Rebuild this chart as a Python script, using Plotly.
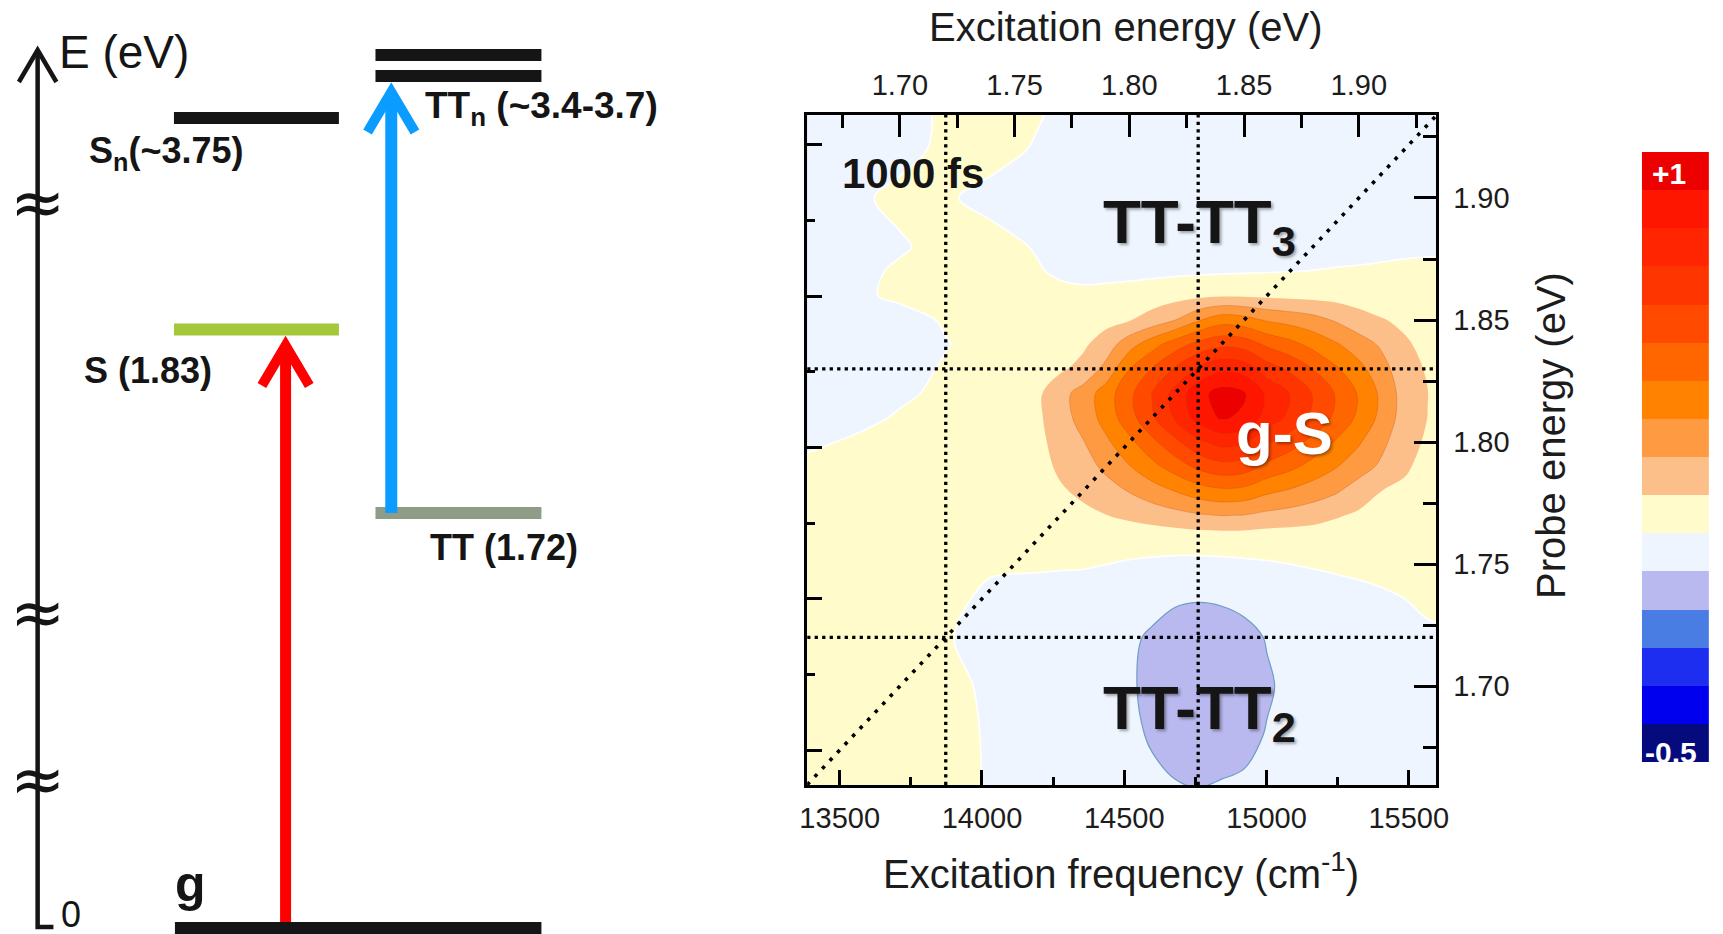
import plotly.graph_objects as go

W, H = 1723, 934
FONT = "Liberation Sans, Arial, Helvetica, sans-serif"
CM_PER_EV = 8065.54

# ---------------- right panel: 2D spectrum ----------------
excitation_ev = [1.655, 1.68, 1.70, 1.72, 1.74, 1.76, 1.77, 1.78, 1.79, 1.80, 1.81, 1.82,
                 1.83, 1.84, 1.85, 1.86, 1.87, 1.88, 1.89, 1.90, 1.91, 1.92, 1.93, 1.94]
probe_ev = [1.655, 1.68, 1.70, 1.72, 1.74, 1.76, 1.77, 1.78, 1.79, 1.80, 1.81,
            1.82, 1.83, 1.84, 1.85, 1.86, 1.87, 1.88, 1.90, 1.92, 1.94]
signal = [
    [0.05, 0.05, 0.045, 0.035, -0.01, -0.04, -0.045, -0.045, -0.05, -0.06, -0.075, -0.085, -0.092, -0.085, -0.08, -0.06, -0.05, -0.045, -0.045, -0.045, -0.045, -0.045, -0.045, -0.045],
    [0.05, 0.05, 0.045, 0.035, -0.012, -0.045, -0.045, -0.05, -0.06, -0.08, -0.11, -0.14, -0.15, -0.14, -0.125, -0.095, -0.07, -0.05, -0.045, -0.045, -0.045, -0.045, -0.045, -0.045],
    [0.05, 0.05, 0.045, 0.03, -0.02, -0.045, -0.045, -0.05, -0.065, -0.09, -0.12, -0.15, -0.16, -0.155, -0.14, -0.11, -0.08, -0.055, -0.048, -0.045, -0.045, -0.045, -0.045, -0.045],
    [0.05, 0.05, 0.04, 0.008, -0.035, -0.045, -0.045, -0.05, -0.062, -0.085, -0.112, -0.14, -0.15, -0.145, -0.125, -0.095, -0.068, -0.05, -0.047, -0.045, -0.038, -0.03, -0.015, -0.008],
    [0.05, 0.05, 0.045, 0.03, -0.012, -0.015, -0.018, -0.02, -0.03, -0.045, -0.06, -0.075, -0.08, -0.075, -0.065, -0.05, -0.037, -0.025, -0.017, -0.01, -0.001, 0.008, 0.025, 0.03],
    [0.045, 0.045, 0.045, 0.045, 0.04, 0.031, 0.031, 0.031, 0.031, 0.031, 0.033, 0.036, 0.039, 0.04, 0.04, 0.037, 0.037, 0.037, 0.041, 0.046, 0.047, 0.048, 0.047, 0.046],
    [0.045, 0.045, 0.045, 0.045, 0.045, 0.052, 0.066, 0.08, 0.099, 0.121, 0.144, 0.167, 0.19, 0.203, 0.198, 0.175, 0.16, 0.142, 0.11, 0.085, 0.07, 0.065, 0.055, 0.05],
    [0.045, 0.045, 0.045, 0.045, 0.045, 0.059, 0.09, 0.118, 0.16, 0.206, 0.255, 0.303, 0.352, 0.38, 0.37, 0.321, 0.289, 0.251, 0.213, 0.15, 0.1, 0.087, 0.066, 0.055],
    [0.02, 0.04, 0.045, 0.045, 0.045, 0.067, 0.116, 0.159, 0.224, 0.295, 0.371, 0.447, 0.523, 0.566, 0.55, 0.474, 0.425, 0.365, 0.306, 0.246, 0.181, 0.11, 0.077, 0.061],
    [-0.03, 0.015, 0.04, 0.045, 0.045, 0.074, 0.138, 0.196, 0.282, 0.375, 0.476, 0.576, 0.677, 0.734, 0.712, 0.612, 0.547, 0.468, 0.39, 0.311, 0.225, 0.131, 0.088, 0.066],
    [-0.045, -0.035, 0.012, 0.04, 0.045, 0.081, 0.162, 0.235, 0.343, 0.46, 0.586, 0.713, 0.839, 0.911, 0.884, 0.757, 0.676, 0.577, 0.478, 0.379, 0.271, 0.153, 0.099, 0.072],
    [-0.045, -0.045, -0.02, 0.025, 0.045, 0.082, 0.166, 0.241, 0.352, 0.473, 0.604, 0.734, 0.865, 0.939, 0.911, 0.78, 0.697, 0.594, 0.492, 0.39, 0.278, 0.156, 0.101, 0.073],
    [-0.045, -0.045, -0.035, 0.01, 0.045, 0.076, 0.085, 0.13, 0.23, 0.397, 0.505, 0.612, 0.72, 0.78, 0.758, 0.65, 0.581, 0.497, 0.413, 0.329, 0.237, 0.137, 0.091, 0.068],
    [-0.045, -0.045, -0.045, -0.005, 0.04, 0.055, 0.065, 0.085, 0.15, 0.26, 0.36, 0.454, 0.532, 0.576, 0.559, 0.482, 0.432, 0.371, 0.311, 0.25, 0.184, 0.111, 0.078, 0.062],
    [-0.045, -0.045, -0.035, 0.01, 0.045, 0.058, 0.06, 0.06, 0.07, 0.095, 0.14, 0.2, 0.29, 0.358, 0.34, 0.29, 0.265, 0.235, 0.19, 0.135, 0.105, 0.084, 0.065, 0.055],
    [-0.045, -0.02, 0.018, 0.045, 0.045, 0.033, 0.025, 0.018, 0.025, 0.036, 0.05, 0.064, 0.078, 0.089, 0.088, 0.081, 0.076, 0.071, 0.065, 0.059, 0.052, 0.044, 0.042, 0.039],
    [-0.045, -0.03, 0.015, 0.045, 0.04, 0.008, -0.015, -0.022, -0.024, -0.025, -0.022, -0.018, -0.015, -0.012, -0.008, -0.005, -0.002, 0.001, 0.004, 0.006, 0.009, 0.012, 0.014, 0.014],
    [-0.045, -0.045, -0.012, 0.035, 0.035, -0.008, -0.03, -0.04, -0.043, -0.045, -0.042, -0.04, -0.038, -0.036, -0.033, -0.03, -0.027, -0.024, -0.021, -0.018, -0.015, -0.012, -0.01, -0.01],
    [-0.045, -0.02, 0.025, 0.012, -0.03, -0.045, -0.045, -0.045, -0.045, -0.045, -0.045, -0.045, -0.045, -0.045, -0.045, -0.045, -0.045, -0.045, -0.045, -0.045, -0.045, -0.045, -0.045, -0.045],
    [-0.045, -0.045, -0.03, 0.02, 0.035, -0.01, -0.035, -0.045, -0.045, -0.045, -0.045, -0.045, -0.045, -0.045, -0.045, -0.045, -0.045, -0.045, -0.045, -0.045, -0.045, -0.045, -0.045, -0.045],
    [-0.045, -0.045, -0.035, 0.015, 0.04, 0.015, -0.01, -0.04, -0.045, -0.045, -0.045, -0.045, -0.045, -0.045, -0.045, -0.045, -0.045, -0.045, -0.045, -0.045, -0.045, -0.045, -0.045, -0.045],
]

# 16 colour bands from -0.6 to +1.0 in steps of 0.1 (bottom -> top)
band_colors = ["#050a7c", "#0000ee", "#1e2ef0", "#4a7de3", "#b9b9ef", "#eef5fe",
               "#fffbcb", "#fdbf8a", "#fd9a42", "#ff8200", "#ff6600", "#ff4a00",
               "#ff3500", "#ff2500", "#ff1600", "#ec0000"]
band_min, band_max, band_step = -0.6, 1.0, 0.1

guide_ev = [1.72, 1.83]            # TT and S energies
ev_range = [1.6596, 1.9338]        # excitation energy range
probe_range = [1.6595, 1.9340]     # probe energy range
freq_ticks = [13500, 14000, 14500, 15000, 15500]
freq_minor = [13750, 14250, 14750, 15250]
ev_ticks = [1.70, 1.75, 1.80, 1.85, 1.90]
ev_minor = [1.675, 1.725, 1.775, 1.825, 1.875, 1.925]

# ---------------- left panel: energy-level scheme (schematic heights, px from top) ----------------
level_names = ["g", "S", "TT", "Sn", "TTn_low", "TTn_high"]
level_y = [928, 329.5, 513, 118, 76, 55]
level_x0 = [169, 168, 372, 168, 372, 372]
level_x1 = [540, 335, 540, 335, 540, 540]
level_colors = ["#151515", "#a5c73a", "#8e9c88", "#151515", "#151515", "#151515"]
level_thick = 12

transitions = [("g", "S", 281, "#ff0000", 11), ("TT", "TTn_low", 388, "#0a9cff", 12)]
axis_x, axis_top, axis_bottom, axis_foot = 30, 52, 927, 46
break_y = [203, 612, 779]

# ---------------- helpers ----------------
def px(x):
    return x / W

def py(y):
    return 1 - y / H

n_b = len(band_colors)
colorscale = []
for k, c in enumerate(band_colors):
    lo = 0.0 if k == 0 else (k - 0.5) / (n_b - 1)
    hi = 1.0 if k == n_b - 1 else (k + 0.5) / (n_b - 1)
    colorscale += [[lo, c], [hi, c]]

fig = go.Figure()

excitation_cm = [v * CM_PER_EV for v in excitation_ev]
common = dict(x=excitation_cm, y=probe_ev, z=signal, xaxis="x", yaxis="y",
              showscale=False, hoverinfo="skip")
fig.add_trace(go.Contour(**common, colorscale=colorscale, zmin=band_min, zmax=band_max, zauto=False,
                         contours=dict(start=band_min + band_step, end=band_max - band_step,
                                       size=band_step, coloring="fill", showlines=False),
                         line=dict(width=0, smoothing=1.0)))
fig.add_trace(go.Contour(**common, contours=dict(start=0.2, end=0.9, size=0.1, coloring="none"),
                         line=dict(width=0.8, color="rgba(170,60,10,0.3)", smoothing=1.0)))
fig.add_trace(go.Contour(**common, contours=dict(start=0.0, end=0.0, size=0.1, coloring="none"),
                         line=dict(width=1.8, color="rgba(255,255,255,0.95)", smoothing=1.0)))
fig.add_trace(go.Contour(**common, contours=dict(start=-0.1, end=-0.1, size=0.1, coloring="none"),
                         line=dict(width=1.2, color="#6f9cc4", smoothing=1.0)))

# invisible anchor trace so the left (cm-1) probe axis is drawn
fig.add_trace(go.Scatter(x=[freq_ticks[0]], y=[freq_ticks[0]], xaxis="x", yaxis="y2",
                         mode="markers", marker=dict(opacity=0), hoverinfo="skip", showlegend=False))

dot = dict(color="black", width=3.3, dash="3.3px,4.2px")
for e in guide_ev:
    fig.add_trace(go.Scatter(x=[e, e], y=probe_range, xaxis="x2", yaxis="y", mode="lines",
                             line=dot, hoverinfo="skip", showlegend=False))
    fig.add_trace(go.Scatter(x=ev_range, y=[e, e], xaxis="x2", yaxis="y", mode="lines",
                             line=dot, hoverinfo="skip", showlegend=False))
fig.add_trace(go.Scatter(x=ev_range, y=ev_range, xaxis="x2", yaxis="y", mode="lines",
                         line=dict(color="black", width=3.6, dash="3.6px,7.4px"),
                         hoverinfo="skip", showlegend=False))

# colour bar as a stacked heatmap
fig.add_trace(go.Heatmap(z=[[k] for k in range(n_b)], x=[0], y=list(range(n_b)),
                         colorscale=colorscale, zmin=0, zmax=n_b - 1, showscale=False,
                         xaxis="x4", yaxis="y4", hoverinfo="skip"))

# ---------------- axes ----------------
tickfont = dict(family=FONT, size=29, color="#1c1c1c")
frame = dict(showline=True, linecolor="black", linewidth=3, showgrid=False, zeroline=False,
             ticks="inside", tickcolor="black", tickwidth=2.5, fixedrange=True)
dom_x = [px(809), px(1446)]
dom_y = [py(785), py(115)]

fig.update_layout(
    width=W, height=H, margin=dict(l=0, r=0, t=0, b=0),
    paper_bgcolor="white", plot_bgcolor="white", showlegend=False,
    xaxis=dict(**frame, domain=dom_x, anchor="y", side="bottom",
               range=[ev_range[0] * CM_PER_EV, ev_range[1] * CM_PER_EV],
               tickvals=freq_ticks, ticktext=[str(v) for v in freq_ticks], ticklen=15,
               tickfont=tickfont, ticklabelstandoff=5,
               minor=dict(tickvals=freq_minor, ticks="inside", ticklen=8, tickwidth=2.5,
                          tickcolor="black", showgrid=False)),
    xaxis2=dict(**frame, overlaying="x", anchor="y", side="top", range=ev_range,
                tickvals=ev_ticks, ticktext=["%.2f" % v for v in ev_ticks], ticklen=22,
                tickfont=tickfont, ticklabelstandoff=5,
                minor=dict(tickvals=ev_minor, ticks="inside", ticklen=13, tickwidth=2.5,
                           tickcolor="black", showgrid=False)),
    yaxis=dict(**frame, domain=dom_y, anchor="x", side="right", range=probe_range,
               tickvals=ev_ticks, ticktext=["%.2f" % v for v in ev_ticks], ticklen=22,
               tickfont=tickfont, ticklabelstandoff=8,
               minor=dict(tickvals=ev_minor, ticks="inside", ticklen=13, tickwidth=2.5,
                          tickcolor="black", showgrid=False)),
    yaxis2=dict(**frame, overlaying="y", anchor="x", side="left",
                range=[probe_range[0] * CM_PER_EV, probe_range[1] * CM_PER_EV],
                tickvals=freq_ticks, ticklen=15, showticklabels=False,
                minor=dict(tickvals=freq_minor, ticks="inside", ticklen=8, tickwidth=2.5,
                           tickcolor="black", showgrid=False)),
    xaxis3=dict(domain=[0, 0.4], range=[0, 0.4 * W], visible=False, fixedrange=True, anchor="y3"),
    yaxis3=dict(domain=[0, 1], range=[H, 0], visible=False, fixedrange=True, anchor="x3"),
    xaxis4=dict(domain=[px(1654), px(1722)], range=[-0.5, 0.5], visible=False, fixedrange=True, anchor="y4"),
    yaxis4=dict(domain=[py(762), py(152)], range=[-0.5, n_b - 0.5], visible=False, fixedrange=True, anchor="x4"),
)

# ---------------- left-panel shapes ----------------
shapes = []
ypos = dict(zip(level_names, level_y))
for name, y, x0, x1, c in zip(level_names, level_y, level_x0, level_x1, level_colors):
    shapes.append(dict(type="line", xref="x3", yref="y3", x0=x0, x1=x1, y0=y, y1=y,
                       line=dict(color=c, width=level_thick)))
for lo, hi, x, c, w in transitions:
    tip = ypos[hi] + level_thick / 2
    apex = tip + 10
    base = ypos[lo] - (level_thick / 2 if lo == "g" else 0)
    shapes.append(dict(type="line", xref="x3", yref="y3", x0=x, x1=x, y0=base, y1=apex + 4,
                       line=dict(color=c, width=w)))
    shapes.append(dict(type="path", xref="x3", yref="y3",
                       path=f"M {x-24} {apex+40} L {x} {apex} L {x+24} {apex+40}",
                       line=dict(color=c, width=10)))
# energy axis
shapes.append(dict(type="path", xref="x3", yref="y3",
                   path=f"M {axis_foot} {axis_bottom} L {axis_x} {axis_bottom} L {axis_x} {axis_top}",
                   line=dict(color="#151515", width=4.5)))
shapes.append(dict(type="path", xref="x3", yref="y3",
                   path=f"M {axis_x-19} {axis_top+30} L {axis_x} {axis_top-2} L {axis_x+19} {axis_top+30}",
                   line=dict(color="#151515", width=4.5)))
fig.update_layout(shapes=shapes)

# ---------------- annotations ----------------
ann = []
def text(t, x, y, size, bold=False, color="#151515", xanchor="left", family=FONT, **kw):
    ann.append(dict(text=f"<b>{t}</b>" if bold else t, x=px(x), y=py(y), xref="paper", yref="paper",
                    xanchor=xanchor, yanchor="middle", showarrow=False,
                    font=dict(family=family, size=size, color=color, **kw)))

# left scheme labels
text("E (eV)", 50, 52, 46)
text("0", 52, 914, 36)
for b in break_y:
    text("≈", axis_x, b, 66, xanchor="center", family="DejaVu Sans")
text("S<sub>n</sub>(~3.75)", 80, 153, 36, bold=True)
text("S (1.83)", 75, 370, 36, bold=True)
text("TT<sub>n</sub> (~3.4-3.7)", 420, 108, 37, bold=True)
text("TT (1.72)", 425, 547, 36, bold=True)
text("g", 167, 884, 50, bold=True)

# spectrum labels
shadow = "2px 2px 3px rgba(0,0,0,0.35)"
text("1000 fs", 916, 174, 42, bold=True, xanchor="center")
text("TT-TT<sub>3</sub>", 1106, 226, 62, bold=True, shadow=shadow)
text("TT-TT<sub>2</sub>", 1106, 712, 62, bold=True, shadow=shadow)
text("g-S", 1292, 434, 60, bold=True, color="white", xanchor="center", shadow=shadow)

# axis titles
text("Excitation energy (eV)", 1132, 27, 40, xanchor="center", color="#1c1c1c")
text("Excitation frequency (cm<sup>-1</sup>)", 1127, 871, 40, xanchor="center", color="#1c1c1c")
ann.append(dict(text="Probe energy (eV)", x=px(1562), y=py(435), xref="paper", yref="paper",
                xanchor="center", yanchor="middle", textangle=-90, showarrow=False,
                font=dict(family=FONT, size=40, color="#1c1c1c")))

# colour bar labels
text("+1", 1682, 174, 30, bold=True, color="white", xanchor="center")
text("-0.5", 1684, 752, 30, bold=True, color="white", xanchor="center")

fig.update_layout(annotations=ann)
fig.write_html("out.html")
